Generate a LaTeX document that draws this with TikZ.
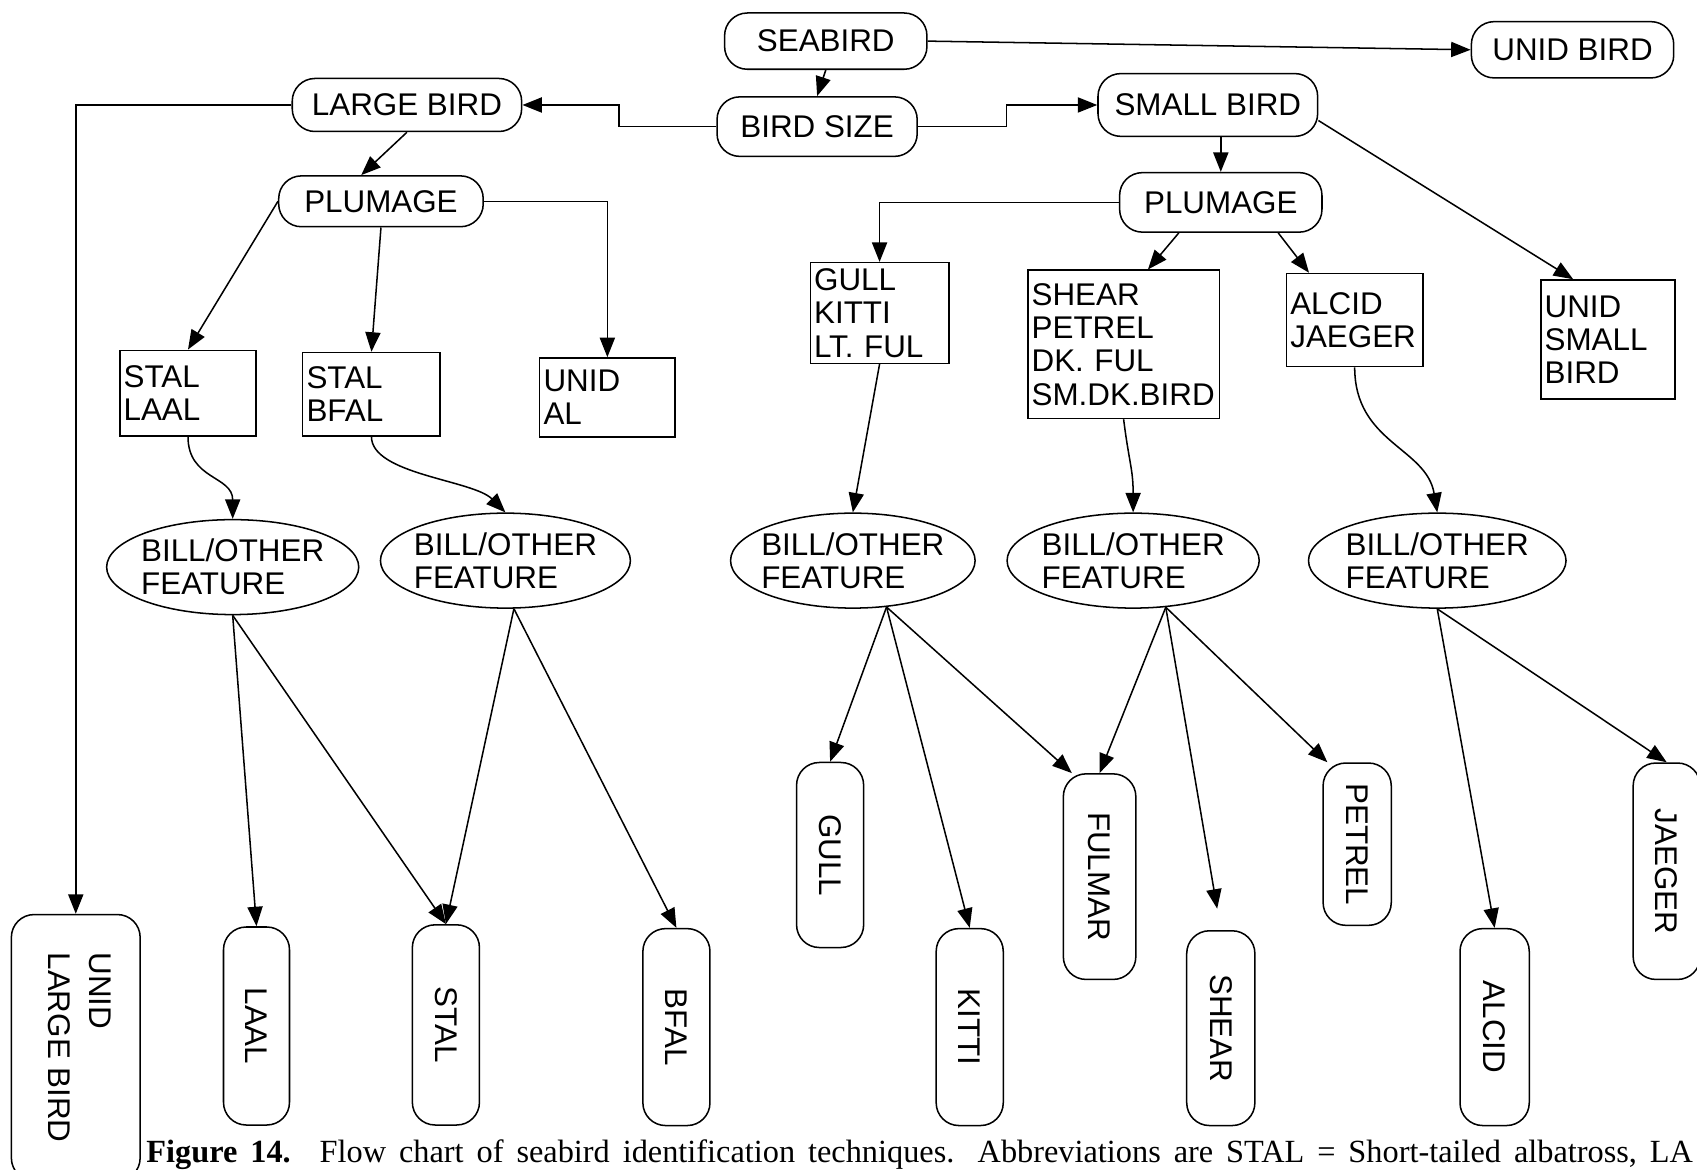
\documentclass[tikz,border=0pt]{standalone}
\usepackage{fontspec}
\setmainfont{Liberation Sans}
\newfontfamily\capfont{Liberation Serif}
\usepackage{graphicx}
\usetikzlibrary{positioning,shapes,arrows.meta}
\newcommand{\birdfont}{\fontsize{16.5}{17.5}\selectfont}

\begin{document}
\begin{tikzpicture}[x=0.02cm, y=-0.02cm,
  mypill/.style={draw, thick, rounded corners=0.42cm, font=\birdfont, inner sep=1pt},
  mybox/.style={draw, thick, anchor=north west, align=left, font=\birdfont, inner xsep=2pt, inner ysep=1pt},
  myoval/.style={draw, thick, ellipse, align=left, font=\birdfont, inner xsep=-0.15cm, inner ysep=0.1cm},
  myarrow/.style={thick, -{Triangle[length=0.36cm, width=0.28cm]}},
 ]
\useasboundingbox (0,0) rectangle (1568,1081);
\clip (0,0) rectangle (1568,1081);

% top level
\node[mypill, minimum width=3.74cm, minimum height=1.04cm] (SEA) at (763,38) {SEABIRD};
\node[mypill, minimum width=3.74cm, minimum height=1.04cm] (UB) at (1453,46) {UNID BIRD};
\node[mypill, minimum width=3.70cm, minimum height=1.10cm] (BS) at (755,117) {BIRD SIZE};
\node[mypill, minimum width=4.24cm, minimum height=0.98cm] (LB) at (376,97) {LARGE BIRD};
\node[mypill, minimum width=4.06cm, minimum height=1.16cm] (SMB) at (1116,97) {SMALL BIRD};
\node[mypill, minimum width=3.78cm, minimum height=0.94cm] (PL) at (352,186) {PLUMAGE};
\node[mypill, minimum width=3.74cm, minimum height=1.10cm] (PR) at (1128,187) {PLUMAGE};

% boxes
\node[mybox, text width=2.38cm, minimum height=1.58cm] (B1) at (110,323) {STAL\\LAAL};
\node[mybox, text width=2.40cm, minimum height=1.54cm] (B2) at (279,325) {STAL\\BFAL};
\node[mybox, text width=2.36cm, minimum height=1.46cm] (B3) at (498,330) {UNID\\AL};
\node[mybox, text width=2.42cm, minimum height=1.86cm] (B4) at (748,242) {GULL\\KITTI\\LT. FUL};
\node[mybox, text width=3.40cm, minimum height=2.74cm] (B5) at (949,249) {SHEAR\\PETREL\\DK. FUL\\SM.DK.BIRD};
\node[mybox, text width=2.38cm, minimum height=1.72cm] (B6) at (1188,252) {ALCID\\JAEGER};
\node[mybox, text width=2.34cm, minimum height=2.20cm] (USB) at (1423,258) {UNID\\SMALL\\BIRD};

% bill / other feature
\node[myoval, minimum width=4.66cm, minimum height=1.72cm] (F1) at (215,524) {BILL/OTHER\\FEATURE};
\node[myoval, minimum width=4.62cm, minimum height=1.74cm] (F2) at (467,518) {BILL/OTHER\\FEATURE};
\node[myoval, minimum width=4.52cm, minimum height=1.74cm] (F3) at (788,518) {BILL/OTHER\\FEATURE};
\node[myoval, minimum width=4.66cm, minimum height=1.74cm] (F4) at (1047,518) {BILL/OTHER\\FEATURE};
\node[myoval, minimum width=4.76cm, minimum height=1.74cm] (F5) at (1328,518) {BILL/OTHER\\FEATURE};

% species
\node[mypill, minimum width=2.38cm, minimum height=4.92cm] (ULB) at (70,968)
  {\rotatebox{-90}{\begin{tabular}{@{}l@{}}UNID\\[4pt]LARGE BIRD\end{tabular}}};
\node[mypill, minimum width=1.22cm, minimum height=3.66cm] (LAAL) at (237,948) {\rotatebox{-90}{LAAL}};
\node[mypill, minimum width=1.24cm, minimum height=3.70cm] (STAL) at (412,947) {\rotatebox{-90}{STAL}};
\node[mypill, minimum width=1.24cm, minimum height=3.64cm] (BFAL) at (625,949) {\rotatebox{-90}{BFAL}};
\node[mypill, minimum width=1.24cm, minimum height=3.42cm] (GULL) at (767,790) {\rotatebox{-90}{GULL}};
\node[mypill, minimum width=1.24cm, minimum height=3.64cm] (KITTI) at (896,949) {\rotatebox{-90}{KITTI}};
\node[mypill, minimum width=1.34cm, minimum height=3.80cm] (FULMAR) at (1016,810) {\rotatebox{-90}{FULMAR}};
\node[mypill, minimum width=1.26cm, minimum height=3.60cm] (SHEAR) at (1128,950) {\rotatebox{-90}{SHEAR}};
\node[mypill, minimum width=1.26cm, minimum height=3.00cm] (PETREL) at (1254,780) {\rotatebox{-90}{PETREL}};
\node[mypill, minimum width=1.28cm, minimum height=3.64cm] (ALCID) at (1381,949) {\rotatebox{-90}{ALCID}};
\node[mypill, minimum width=1.24cm, minimum height=4.00cm] (JAEGER) at (1540,805) {\rotatebox{-90}{JAEGER}};

\node[anchor=base west, inner sep=0pt, font=\capfont\fontsize{17}{20}\selectfont] (CAP) at (135,1074)
  {\spaceskip=6.8pt\relax\textbf{Figure 14.}\hspace{7pt} Flow chart of seabird identification techniques.\hspace{4pt} Abbreviations are STAL = Short-tailed albatross, LA};

\draw[myarrow] (SEA.east) -- (UB.west);
\draw[myarrow] (SEA.south) -- (BS.north);
\draw[myarrow] (BS.west) -- ++(-90,0) |- (LB.east);
\draw[myarrow] (BS.east) -- ++(82,0) |- (SMB.west);
\draw[myarrow] (LB.west) -| (ULB.north);
\draw[myarrow] (PL.east) -| (B3.north);
\draw[myarrow] (PR.west) -| (B4.north);

\path[myarrow]
(LB.south) edge (PL.127)
(PR.north |- SMB.south) edge (PR.north)
(SMB.-8) edge (USB.120)
(PL.west) edge (B1.north)
(PL.south) edge (B2.north)
(PR.-144) edge (B5.72)
(PR.-28) edge (B6.134)
(B4.south) edge (F3.north);

\draw[myarrow] (B1.south) .. controls +(0,40) and +(0,-40) .. (F1.north);
\draw[myarrow] (B2.south) .. controls +(0,35) and +(-30,-30) .. (F2.north);
\draw[myarrow] (B5.south) .. controls +(5,40) and +(0,-40) .. (F4.north);
\draw[myarrow] (B6.south) .. controls +(0,70) and +(-10,-60) .. (F5.north);

\path[myarrow]
(F1.south) edge (LAAL.north)
(F1.south) edge (STAL.north)
(F2.-80) edge (STAL.north)
(F2.-80) edge (BFAL.north)
(F3.-54) edge (GULL.north)
(F3.-54) edge (KITTI.north)
(F3.-54) edge (FULMAR.105)
(F4.-55) edge (FULMAR.north)
(F4.-55) edge[shorten >=0.4cm] (SHEAR.north)
(F4.-55) edge (PETREL.110)
(F5.south) edge (ALCID.north)
(F5.south) edge (JAEGER.north);

\end{tikzpicture}
\end{document}
